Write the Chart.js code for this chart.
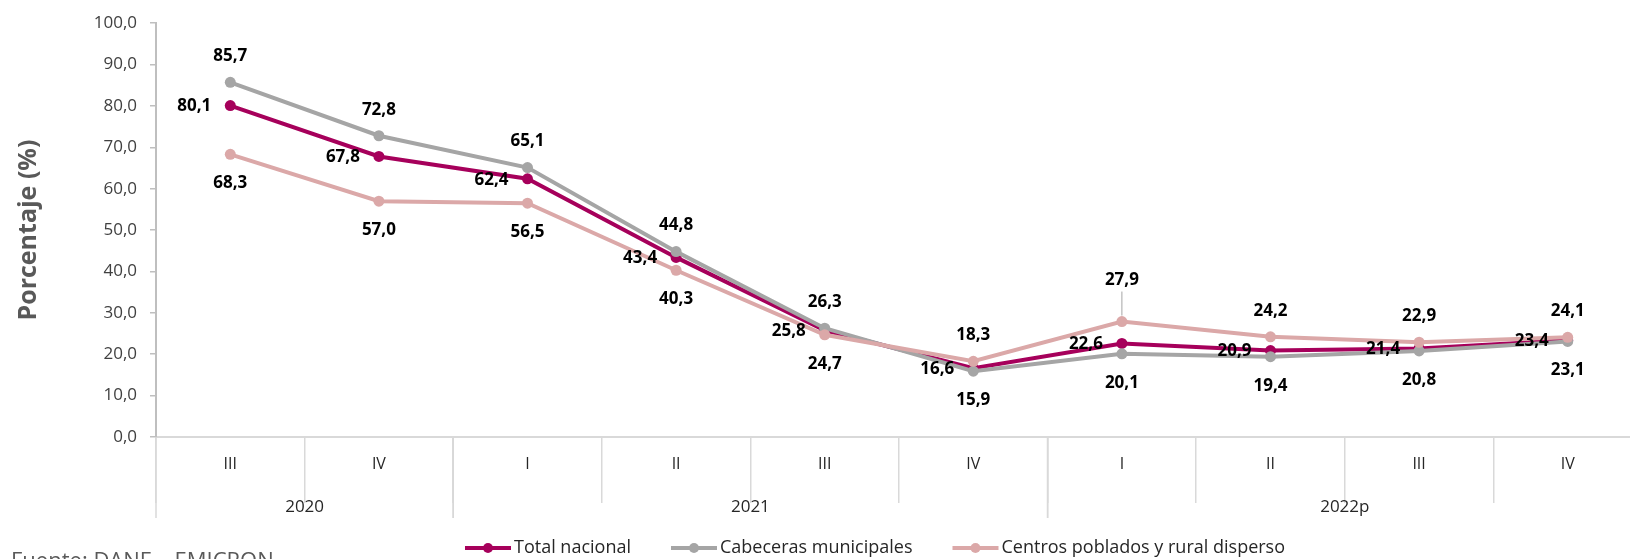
<!DOCTYPE html>
<html>
<head>
<meta charset="utf-8">
<script src="https://cdn.jsdelivr.net/npm/chart.js@4.4.0/dist/chart.umd.min.js"></script>
<style>
  html, body { margin: 0; padding: 0; background: #fff; overflow: hidden; }
  #wrap { width: 1650px; height: 559px; }
</style>
</head>
<body>
<div id="wrap"><canvas id="chart" width="1650" height="559"></canvas></div>
<script>
// trimestres y años (eje x en dos niveles)
const quarters = ["III", "IV", "I", "II", "III", "IV", "I", "II", "III", "IV"];
const years = ["2020", "2021", "2022p"];
const quartersPerYear = [2, 4, 4];

const seriesNames = ["Total nacional", "Cabeceras municipales", "Centros poblados y rural disperso"];
const totalNacional = [80.1, 67.8, 62.4, 43.4, 25.8, 16.6, 22.6, 20.9, 21.4, 23.4];
const cabeceras = [85.7, 72.8, 65.1, 44.8, 26.3, 15.9, 20.1, 19.4, 20.8, 23.1];
const centrosPoblados = [68.3, 57.0, 56.5, 40.3, 24.7, 18.3, 27.9, 24.2, 22.9, 24.1];

const colours = ["#A6005B", "#A5A5A5", "#DBA8A8"];

const fmt = v => v.toFixed(1).replace(".", ",");
const baseFont = "'Open Sans', 'Noto Sans', sans-serif";

function makeSet(i, data, order) {
  return {
    label: seriesNames[i],
    data: data,
    borderColor: colours[i],
    backgroundColor: colours[i],
    borderWidth: 4,
    pointRadius: 5.5,
    pointHoverRadius: 5.5,
    pointBorderWidth: 0,
    tension: 0,
    order: order
  };
}

// etiquetas de datos, eje de años, leyenda y fuente
const extras = {
  id: "extras",
  afterDatasetsDraw(chart) {
    const ctx = chart.ctx;
    const sets = chart.data.datasets;
    ctx.save();
    ctx.font = "bold 17px " + baseFont;
    ctx.fillStyle = "#000";
    ctx.textBaseline = "middle";
    sets.forEach((ds, di) => {
      const meta = chart.getDatasetMeta(di);
      meta.data.forEach((pt, i) => {
        const txt = fmt(ds.data[i]);
        if (di === 0) {
          ctx.textAlign = "right";
          ctx.fillText(txt, pt.x - 19, pt.y + 1);
          return;
        }
        // the higher of the two areas is labelled above, the lower below
        const other = sets[di === 1 ? 2 : 1].data[i];
        ctx.textAlign = "center";
        if (ds.data[i] >= other) {
          if (di === 2 && i === 6) {
            // this one sits higher, with a leader line
            ctx.fillText(txt, pt.x, pt.y - 41);
            ctx.strokeStyle = "#A5A5A5";
            ctx.lineWidth = 1;
            ctx.beginPath();
            ctx.moveTo(pt.x, pt.y - 30);
            ctx.lineTo(pt.x, pt.y - 6);
            ctx.stroke();
          } else {
            ctx.fillText(txt, pt.x, pt.y - 26);
          }
        } else {
          ctx.fillText(txt, pt.x, pt.y + 29);
        }
      });
    });
    ctx.restore();
  },
  afterDraw(chart) {
    const ctx = chart.ctx;
    const x = chart.scales.x;
    const half = (x.getPixelForValue(1) - x.getPixelForValue(0)) / 2;
    const axisY = chart.chartArea.bottom;
    ctx.save();

    // separadores y etiquetas de años
    ctx.strokeStyle = "#D9D9D9";
    ctx.lineWidth = 1.5;
    ctx.font = "17px " + baseFont;
    ctx.fillStyle = "#262626";
    ctx.textAlign = "center";
    ctx.textBaseline = "middle";
    let start = 0;
    years.forEach((y, k) => {
      const end = start + quartersPerYear[k];
      const left = x.getPixelForValue(start) - half;
      const right = x.getPixelForValue(end - 1) + half;
      [left, right].forEach(px => {
        ctx.beginPath();
        ctx.moveTo(px, axisY);
        ctx.lineTo(px, axisY + 81);
        ctx.stroke();
      });
      ctx.fillText(y, (left + right) / 2, axisY + 70);
      start = end;
    });

    // leyenda
    ctx.font = "18px " + baseFont;
    const lineW = 46, gap = 3, spacing = 40, legY = 548;
    const items = chart.data.datasets.map(ds => ({
      text: ds.label, col: ds.borderColor, w: ctx.measureText(ds.label).width
    }));
    let total = 0;
    items.forEach((it, k) => { total += lineW + gap + it.w + (k ? spacing : 0); });
    let cx = 875 - total / 2;
    ctx.textAlign = "left";
    items.forEach(it => {
      ctx.strokeStyle = it.col;
      ctx.fillStyle = it.col;
      ctx.lineWidth = 4;
      ctx.beginPath();
      ctx.moveTo(cx, legY);
      ctx.lineTo(cx + lineW, legY);
      ctx.stroke();
      ctx.beginPath();
      ctx.arc(cx + lineW / 2, legY, 5, 0, Math.PI * 2);
      ctx.fill();
      ctx.fillStyle = "#262626";
      ctx.fillText(it.text, cx + lineW + gap, legY);
      cx += lineW + gap + it.w + spacing;
    });

    // fuente
    ctx.font = "22px " + baseFont;
    ctx.fillStyle = "#595959";
    ctx.textBaseline = "alphabetic";
    ctx.fillText("Fuente: DANE \u2013 EMICRON", 11, 568);
    ctx.restore();
  }
};

new Chart(document.getElementById("chart"), {
  type: "line",
  data: {
    labels: quarters,
    datasets: [
      makeSet(0, totalNacional, 2),
      makeSet(1, cabeceras, 1),
      makeSet(2, centrosPoblados, 0)
    ]
  },
  options: {
    responsive: false,
    animation: false,
    devicePixelRatio: 1,
    layout: { padding: { top: 21, right: 8, bottom: 0, left: 0 } },
    plugins: {
      legend: { display: false },
      tooltip: { enabled: false }
    },
    scales: {
      x: {
        offset: true,
        grid: {
          offset: true,
          drawOnChartArea: false,
          tickLength: 66,
          color: "#D9D9D9",
          lineWidth: 1.5
        },
        border: { color: "#D9D9D9", width: 2 },
        ticks: {
          padding: -48,
          color: "#262626",
          font: { family: baseFont, size: 16 }
        },
        afterFit: s => { s.height = 122; }
      },
      y: {
        min: 0,
        max: 100,
        ticks: {
          stepSize: 10,
          padding: 13,
          color: "#404040",
          font: { family: baseFont, size: 17 },
          callback: v => fmt(v)
        },
        grid: {
          drawOnChartArea: false,
          tickLength: 6,
          color: "#BFBFBF",
          lineWidth: 1.5
        },
        border: { color: "#BFBFBF", width: 2 },
        title: {
          display: true,
          text: "Porcentaje (%)",
          color: "#595959",
          padding: { top: 14, bottom: 0 },
          font: { family: baseFont, size: 25, weight: "bold" }
        },
        afterFit: s => { s.width = 156; }
      }
    }
  },
  plugins: [extras]
});
</script>
</body>
</html>
